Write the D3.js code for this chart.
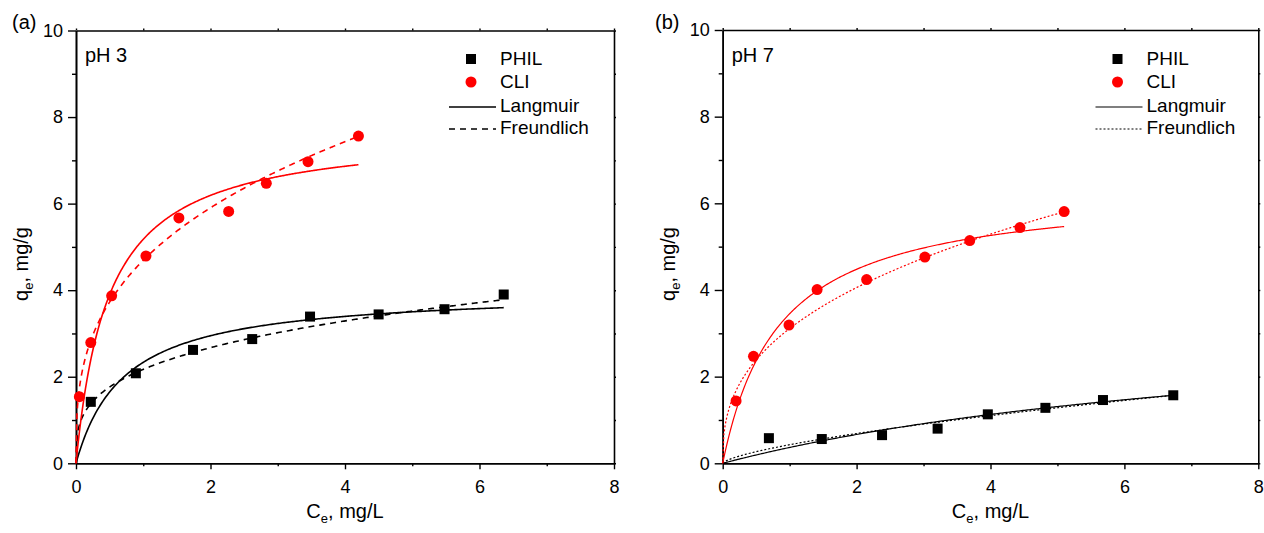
<!DOCTYPE html>
<html>
<head>
<meta charset="utf-8">
<script src="https://cdn.jsdelivr.net/npm/d3@7"></script>
<style>
  html, body { margin: 0; padding: 0; background: #fff; }
  svg { display: block; font-family: Arial, "Liberation Sans", sans-serif; }
  .tick text { font-size: 18px; fill: #000; }
</style>
</head>
<body>
<svg id="chart" width="1264" height="533"></svg>
<script>
// Equilibrium adsorption data, Ce (mg/L) vs qe (mg/g)
const phil3Ce = [0.22, 0.89, 1.74, 2.62, 3.48, 4.50, 5.48, 6.36];
const phil3Qe = [1.42, 2.08, 2.62, 2.87, 3.39, 3.44, 3.56, 3.90];
const cli3Ce  = [0.05, 0.22, 0.53, 1.04, 1.53, 2.27, 2.83, 3.45, 4.20];
const cli3Qe  = [1.54, 2.79, 3.87, 4.79, 5.67, 5.82, 6.47, 6.97, 7.56];

const phil7Ce = [0.69, 1.48, 2.38, 3.21, 3.96, 4.82, 5.68, 6.73];
const phil7Qe = [0.58, 0.56, 0.65, 0.80, 1.13, 1.28, 1.46, 1.57];
const cli7Ce  = [0.20, 0.46, 0.99, 1.41, 2.15, 3.02, 3.69, 4.44, 5.10];
const cli7Qe  = [1.44, 2.47, 3.19, 4.01, 4.24, 4.76, 5.14, 5.44, 5.81];

// Isotherm fit parameters: Langmuir [qm, KL], Freundlich [KF, 1/n]
const langmuirPhil3 = [4.0, 1.4];
const langmuirCli3  = [7.7, 2.05];
const freundPhil3   = [2.17, 0.30];
const freundCli3    = [4.69, 0.332];
const langmuirPhil7 = [3.69, 0.110];
const langmuirCli7  = [6.37, 1.183];
const freundPhil7   = [0.429, 0.68];
const freundCli7    = [3.11, 0.383];

// Axis ticks
const xMajor = [0, 2, 4, 6, 8];
const xMinor = [1, 3, 5, 7];
const yMajor = [0, 2, 4, 6, 8, 10];
const yMinor = [1, 3, 5, 7, 9];

const seriesNames = ["PHIL", "CLI", "Langmuir", "Freundlich"];

const svg = d3.select("#chart");

const langmuir = p => c => p[0] * p[1] * c / (1 + p[1] * c);
const freundlich = p => c => p[0] * Math.pow(c, p[1]);

function panel(cfg) {
  const x = d3.scaleLinear().domain([0, 8]).range([cfg.left, cfg.right]);
  const y = d3.scaleLinear().domain([0, 10]).range([cfg.bottom, cfg.top]);
  const g = svg.append("g");

  // axes
  const ax = (axis, tr) => {
    const a = g.append("g").attr("transform", tr).call(axis);
    a.select(".domain").attr("stroke-width", 1.6).attr("stroke", "#000");
    a.selectAll(".tick line").attr("stroke-width", 1.4).attr("stroke", "#000");
    return a;
  };
  ax(d3.axisBottom(x).tickValues(xMajor).tickSize(6).tickSizeOuter(0).tickPadding(11).tickFormat(d3.format("d")),
     `translate(0,${cfg.bottom})`);
  ax(d3.axisBottom(x).tickValues(xMinor).tickSize(3).tickSizeOuter(0).tickFormat(""),
     `translate(0,${cfg.bottom})`);
  ax(d3.axisLeft(y).tickValues(yMajor).tickSize(8).tickSizeOuter(0).tickPadding(5).tickFormat(d3.format("d")),
     `translate(${cfg.left},0)`);
  ax(d3.axisLeft(y).tickValues(yMinor).tickSize(4).tickSizeOuter(0).tickFormat(""),
     `translate(${cfg.left},0)`);
  ax(d3.axisTop(x).tickValues(xMajor.concat(xMinor)).tickSize(2).tickSizeOuter(0).tickFormat(""),
     `translate(0,${cfg.top})`);
  ax(d3.axisRight(y).tickValues(yMajor.concat(yMinor)).tickSize(2).tickSizeOuter(0).tickFormat(""),
     `translate(${cfg.right},0)`);

  // fitted isotherm curves
  const line = d3.line().x(d => x(d[0])).y(d => y(d[1]));
  const curve = (f, cmax, color, dash) => {
    const pts = d3.range(0, 301).map(i => { const c = cmax * i / 300; return [c, f(c)]; });
    g.append("path").datum(pts).attr("d", line)
      .attr("fill", "none").attr("stroke", color).attr("stroke-width", cfg.lw)
      .attr("stroke-dasharray", dash);
  };
  curve(langmuir(cfg.lPhil), d3.max(cfg.philCe), "#000", null);
  curve(freundlich(cfg.fPhil), d3.max(cfg.philCe), "#000", cfg.dash);
  curve(langmuir(cfg.lCli), d3.max(cfg.cliCe), "#ff0000", null);
  curve(freundlich(cfg.fCli), d3.max(cfg.cliCe), "#ff0000", cfg.dash);

  // data points
  const s = 10;
  g.append("g").selectAll("rect").data(cfg.philCe.map((c, i) => [c, cfg.philQe[i]]))
    .join("rect")
    .attr("x", d => x(d[0]) - s / 2).attr("y", d => y(d[1]) - s / 2)
    .attr("width", s).attr("height", s).attr("fill", "#000");
  g.append("g").selectAll("circle").data(cfg.cliCe.map((c, i) => [c, cfg.cliQe[i]]))
    .join("circle")
    .attr("cx", d => x(d[0])).attr("cy", d => y(d[1])).attr("r", 5.5).attr("fill", "#ff0000");

  // panel tag and pH label
  g.append("text").attr("x", cfg.tagX).attr("y", 29).attr("font-size", 20).text(cfg.tag);
  g.append("text").attr("x", cfg.left + 9).attr("y", 62).attr("font-size", 20).text(cfg.ph);

  // axis titles
  const xt = g.append("text").attr("x", (cfg.left + cfg.right) / 2).attr("y", 518)
    .attr("text-anchor", "middle").attr("font-size", 20);
  xt.append("tspan").text("C");
  xt.append("tspan").attr("font-size", 13).attr("dy", 5).text("e");
  xt.append("tspan").attr("dy", -5).text(", mg/L");

  const yt = g.append("text").attr("transform", `translate(${cfg.left - 48},264) rotate(-90)`)
    .attr("text-anchor", "middle").attr("font-size", 20);
  yt.append("tspan").text("q");
  yt.append("tspan").attr("font-size", 13).attr("dy", 5).text("e");
  yt.append("tspan").attr("dy", -5).text(", mg/g");

  // legend
  const lg = g.append("g").attr("font-size", 19);
  const lx = cfg.legX;
  lg.append("rect").attr("x", lx - 5).attr("y", 59 - 5).attr("width", 10).attr("height", 10).attr("fill", "#000");
  lg.append("text").attr("x", lx + 29).attr("y", 65).text(seriesNames[0]);
  lg.append("circle").attr("cx", lx).attr("cy", 82).attr("r", 5.5).attr("fill", "#ff0000");
  lg.append("text").attr("x", lx + 29).attr("y", 88).text(seriesNames[1]);
  lg.append("line").attr("x1", lx - 22).attr("x2", lx + 25).attr("y1", 107).attr("y2", 107)
    .attr("stroke", "#000").attr("stroke-width", cfg.lw);
  lg.append("text").attr("x", lx + 29).attr("y", 112).text(seriesNames[2]);
  lg.append("line").attr("x1", lx - 22).attr("x2", lx + 25).attr("y1", 129).attr("y2", 129)
    .attr("stroke", "#000").attr("stroke-width", cfg.lw).attr("stroke-dasharray", cfg.dash);
  lg.append("text").attr("x", lx + 29).attr("y", 134).text(seriesNames[3]);
}

panel({
  tag: "(a)", tagX: 12, ph: "pH 3", left: 76, right: 614, top: 30.5, bottom: 463.3,
  philCe: phil3Ce, philQe: phil3Qe, cliCe: cli3Ce, cliQe: cli3Qe,
  lPhil: langmuirPhil3, fPhil: freundPhil3, lCli: langmuirCli3, fCli: freundCli3,
  dash: "6,5", lw: 1.6, legX: 471
});
panel({
  tag: "(b)", tagX: 655, ph: "pH 7", left: 722.7, right: 1258.3, top: 30, bottom: 463.3,
  philCe: phil7Ce, philQe: phil7Qe, cliCe: cli7Ce, cliQe: cli7Qe,
  lPhil: langmuirPhil7, fPhil: freundPhil7, lCli: langmuirCli7, fCli: freundCli7,
  dash: "2,2", lw: 1.2, legX: 1117.5
});
</script>
</body>
</html>
